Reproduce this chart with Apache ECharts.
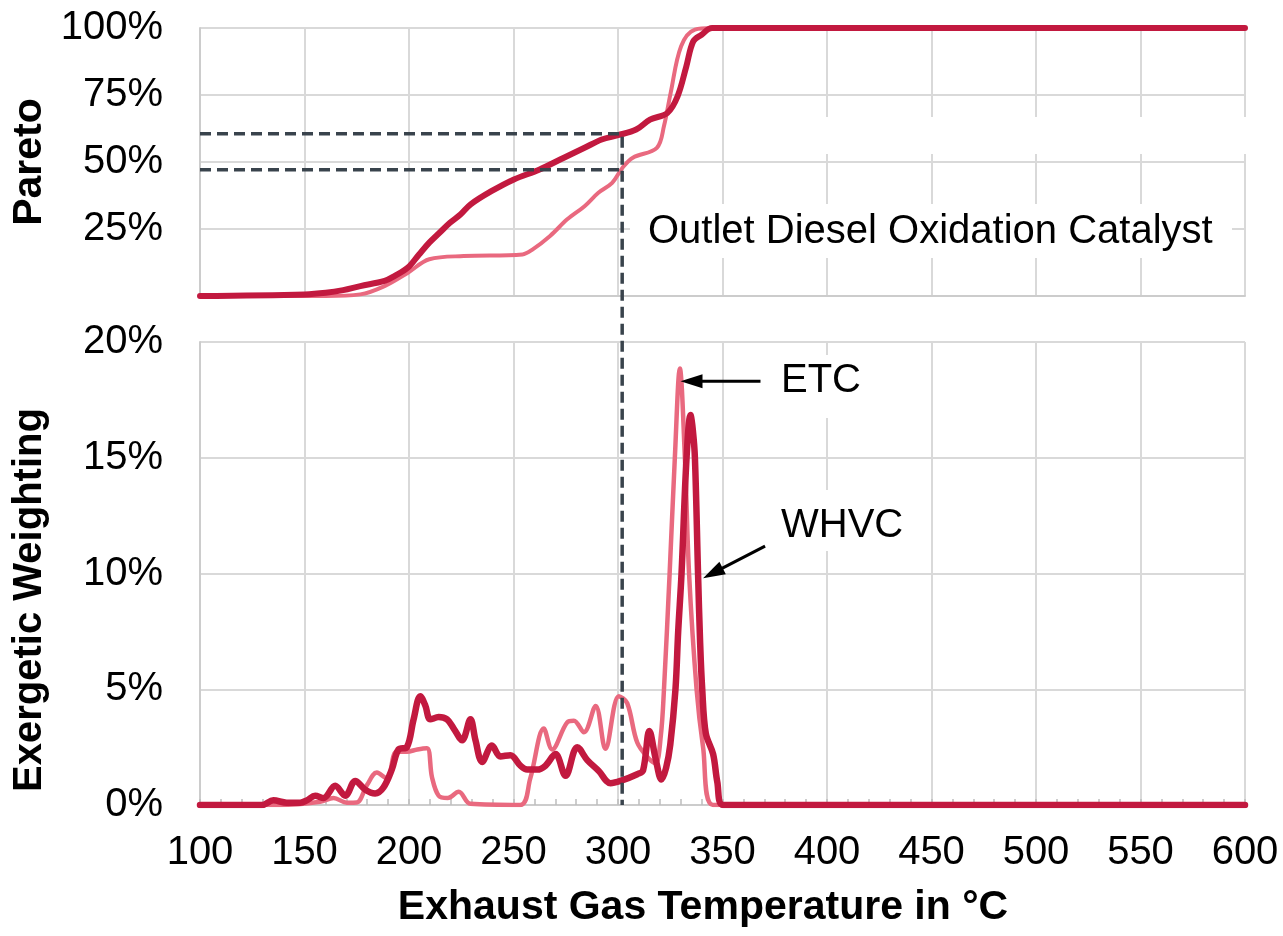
<!DOCTYPE html>
<html>
<head>
<meta charset="utf-8">
<script src="https://cdn.jsdelivr.net/npm/echarts@6/dist/echarts.min.js"></script>
<style>
  html, body { margin: 0; padding: 0; background: #ffffff; }
  #chart { width: 1283px; height: 936px; }
</style>
</head>
<body>
<div id="chart"></div>
<script>
// Temperature axis ticks (°C)
const tempTicks = [100, 150, 200, 250, 300, 350, 400, 450, 500, 550, 600];

// Cumulative share (Pareto, %) – WHVC cycle
const paretoWhvcTemp = [100, 150, 160.2, 168.5, 176.7, 188.3, 193.2, 199.5, 204.8, 209.7, 214.6, 219.6, 224.6, 229.5, 239.4, 250.2, 262.5, 274.1, 284, 292.2, 300, 308.7, 315.3, 323.6, 328.5, 332.7, 336, 340, 345, 600];
const paretoWhvc     = [0, 0.6, 1.2, 2.2, 3.7, 5.6, 7.5, 10.6, 15.5, 19.9, 23.6, 27.3, 30.4, 34.2, 39.1, 43.5, 47.2, 51.6, 55.3, 58.4, 60.0, 62.1, 65.8, 68.3, 74.5, 85.7, 95, 97.5, 100, 100];

// Cumulative share (Pareto, %) – ETC cycle
const paretoEtcTemp = [100, 160, 176.7, 188.3, 199.5, 209.7, 226.2, 254.3, 259.2, 267.5, 275.7, 284, 290.6, 297.2, 302.1, 307.1, 318.6, 322, 325.2, 330.2, 336.8, 345, 600];
const paretoEtc     = [0, 0, 0.6, 3.7, 8.7, 13.7, 14.9, 15.5, 17.4, 22.4, 28.6, 33.5, 38.5, 42.2, 47.8, 51.6, 55.3, 63.4, 75.8, 93.2, 99.4, 100, 100];

// Exergetic weighting (%) – WHVC cycle
const weightWhvcTemp = [100, 129.5, 135.1, 141.5, 147.9, 151.1, 155.1, 159.1, 164.7, 169.5, 174.3, 179.1, 183.8, 187.8, 191.8, 195, 199, 202.2, 205.4, 207.8, 210.2, 214.2, 218.2, 221.4, 225.4, 229.4, 231.8, 235, 239.7, 243.7, 248.5, 253.3, 256.5, 261.3, 265.3, 270.1, 274.9, 280.5, 285.3, 290.8, 296.4, 301.2, 309.2, 312, 315, 318, 320.8, 323, 325, 327.5, 328.8, 330.4, 332.8, 334.7, 335.8, 336.8, 338.3, 339.3, 340.3, 342, 345.5, 347.5, 350.3, 600];
const weightWhvc     = [0, 0, 0.2, 0.1, 0.1, 0.2, 0.4, 0.3, 0.83, 0.4, 1.04, 0.66, 0.5, 0.76, 1.54, 2.4, 2.5, 3.7, 4.7, 4.3, 3.7, 3.8, 3.7, 3.3, 2.8, 3.7, 2.8, 1.86, 2.57, 2.1, 2.15, 1.7, 1.53, 1.53, 1.7, 2.2, 1.26, 2.5, 1.94, 1.47, 0.94, 1.04, 1.33, 1.5, 3.2, 2.0, 1.1, 1.6, 2.6, 5, 7.5, 10, 15, 16.85, 16.2, 15, 10, 7, 5, 3.1, 2.2, 1, 0, 0];

// Exergetic weighting (%) – ETC cycle
const weightEtcTemp = [100, 138.3, 157.5, 163.9, 170.3, 175, 179.9, 184.6, 189.4, 194, 199, 204, 208.6, 211, 214.2, 218.5, 223.8, 229.4, 253.3, 258, 264.5, 268.5, 275.7, 278.9, 283.7, 289.3, 294, 300.4, 304.4, 309.2, 314.8, 318, 320.5, 322, 324.7, 327.2, 329.6, 332, 334, 337.6, 340.7, 345.5, 600];
const weightEtc     = [0, 0, 0.14, 0.3, 0.1, 0.11, 0.86, 1.4, 1.14, 2.3, 2.3, 2.4, 2.45, 1.2, 0.4, 0.3, 0.57, 0.05, 0, 1.14, 3.3, 2.4, 3.57, 3.64, 3.14, 4.28, 2.43, 4.7, 4.4, 2.7, 2.0, 1.8, 3.0, 5, 10, 15, 18.85, 15, 10, 5, 2.5, 0, 0];

const markTemp = 302;
const paretoMarks = [60.5, 47.1];

// Annotation texts
const paretoTitle = 'Pareto';
const weightTitle = 'Exergetic Weighting';
const tempTitle = 'Exhaust Gas Temperature in \u00b0C';
const positionLabel = 'Outlet Diesel Oxidation Catalyst';
const cycleNames = ['ETC', 'WHVC'];

const FONT = '"Liberation Sans", Arial, Helvetica, sans-serif';
const DARK = '#c2193f';
const LIGHT = '#e9697f';
const GRID_C = '#d9d9d9';
const DASH_C = '#39434c';

const zip = (xs, ys) => xs.map((x, i) => [x, ys[i]]);

const chart = echarts.init(document.getElementById('chart'), null, { renderer: 'canvas' });

const gridTop = { left: 200, right: 38, top: 28, height: 268 };
const gridBottom = { left: 200, right: 38, top: 342, height: 463 };

function xAxisCfg(gridIndex, withLabels) {
  return {
    type: 'value', gridIndex, min: tempTicks[0], max: tempTicks[tempTicks.length - 1], interval: 50,
    axisLine: { show: true, lineStyle: { color: '#cccccc', width: 2 } },
    axisTick: withLabels ? { show: true, inside: true, length: 6, lineStyle: { color: '#bdbdbd', width: 1.5 } } : { show: false },
    minorTick: withLabels ? { show: true, splitNumber: 5, length: 6, lineStyle: { color: '#bdbdbd', width: 1.5 } } : { show: false },
    axisLabel: withLabels ? { show: true, fontSize: 40, fontFamily: FONT, color: '#000', margin: 28 } : { show: false },
    splitLine: { show: true, lineStyle: { color: GRID_C, width: 2 } }
  };
}

function yAxisCfg(gridIndex, max, interval, hideMin) {
  return {
    type: 'value', gridIndex, min: 0, max, interval,
    axisLine: { show: true, lineStyle: { color: '#cccccc', width: 2 } },
    axisTick: { show: false },
    axisLabel: { show: true, fontSize: 40, fontFamily: FONT, color: '#000', margin: 37, showMinLabel: !hideMin, formatter: '{value}%' },
    splitLine: { show: true, lineStyle: { color: GRID_C, width: 2 } }
  };
}

function lineSeries(name, gridIndex, pts, color, width) {
  return {
    name, type: 'line', xAxisIndex: gridIndex, yAxisIndex: gridIndex,
    data: pts, showSymbol: false, symbol: 'none', smooth: 0.35,
    lineStyle: { color, width, cap: 'round', join: 'round' },
    animation: false, z: color === DARK ? 4 : 3
  };
}

chart.setOption({
  animation: false,
  backgroundColor: '#ffffff',
  textStyle: { fontFamily: FONT },
  grid: [gridTop, gridBottom],
  xAxis: [xAxisCfg(0, false), xAxisCfg(1, true)],
  yAxis: [yAxisCfg(0, 100, 25, true), yAxisCfg(1, 20, 5, false)],
  series: [
    lineSeries('ETC Pareto', 0, zip(paretoEtcTemp, paretoEtc), LIGHT, 4),
    lineSeries('WHVC Pareto', 0, zip(paretoWhvcTemp, paretoWhvc), DARK, 6),
    lineSeries('ETC', 1, zip(weightEtcTemp, weightEtc), LIGHT, 4.5),
    lineSeries('WHVC', 1, zip(weightWhvcTemp, weightWhvc), DARK, 6.5)
  ]
});

// Overlay: reference lines, arrows, titles and labels
const px = (g, pt) => chart.convertToPixel({ gridIndex: g }, pt);

function arrow(tip, dx, dy) {
  const start = [tip[0] + dx, tip[1] + dy];
  const len = Math.hypot(dx, dy);
  const ux = -dx / len, uy = -dy / len;
  const L = 22, W = 14;
  const base = [tip[0] - ux * L, tip[1] - uy * L];
  const nx = -uy, ny = ux;
  return [
    { type: 'line', z: 120, shape: { x1: start[0], y1: start[1], x2: base[0] + ux * 4, y2: base[1] + uy * 4 },
      style: { stroke: '#000', lineWidth: 3 } },
    { type: 'polygon', z: 121, shape: { points: [tip, [base[0] + nx * W / 2, base[1] + ny * W / 2], [base[0] - nx * W / 2, base[1] - ny * W / 2]] },
      style: { fill: '#000' } }
  ];
}

const pHi0 = px(0, [tempTicks[0], paretoMarks[0]]);
const pHi1 = px(0, [markTemp, paretoMarks[0]]);
const pLo0 = px(0, [tempTicks[0], paretoMarks[1]]);
const pLo1 = px(0, [markTemp, paretoMarks[1]]);
const pBase = px(1, [markTemp, 0]);

const etcTip = px(1, [329.9, 18.3]);
const whvcTip = px(1, [340.7, 9.8]);

const textStyle = (text, size, weight) => ({ text, font: `${weight} ${size}px ${FONT}`, fill: '#000' });

const elements = [
  // white boxes behind labels
  { type: 'rect', z: 100, shape: { x: 744, y: 117, width: 508, height: 37 }, style: { fill: '#ffffff' } },
  { type: 'rect', z: 100, shape: { x: 630, y: 204, width: 602, height: 54 }, style: { fill: '#ffffff' } },
  { type: 'rect', z: 100, shape: { x: 767, y: 355, width: 115, height: 63 }, style: { fill: '#ffffff' } },
  { type: 'rect', z: 100, shape: { x: 763, y: 490, width: 158, height: 61 }, style: { fill: '#ffffff' } },
  // reference lines
  { type: 'polyline', z: 110, shape: { points: [pHi0, pHi1, pBase] },
    style: { stroke: DASH_C, lineWidth: 3.5, lineDash: [11, 6], fill: null } },
  { type: 'polyline', z: 110, shape: { points: [pLo0, pLo1] },
    style: { stroke: DASH_C, lineWidth: 3.5, lineDash: [11, 6], fill: null } },
  // labels
  { type: 'text', z: 130, x: 648, y: 232, style: Object.assign(textStyle(positionLabel, 40, 'normal'), { textAlign: 'left', textVerticalAlign: 'middle' }) },
  { type: 'text', z: 130, x: 781, y: 381, style: Object.assign(textStyle(cycleNames[0], 40, 'normal'), { textAlign: 'left', textVerticalAlign: 'middle' }) },
  { type: 'text', z: 130, x: 781, y: 526, style: Object.assign(textStyle(cycleNames[1], 40, 'normal'), { textAlign: 'left', textVerticalAlign: 'middle' }) },
  // axis titles
  { type: 'text', z: 130, x: 30, y: 162, rotation: Math.PI / 2, style: Object.assign(textStyle(paretoTitle, 41, 'bold'), { textAlign: 'center', textVerticalAlign: 'middle' }) },
  { type: 'text', z: 130, x: 30, y: 600, rotation: Math.PI / 2, style: Object.assign(textStyle(weightTitle, 40, 'bold'), { textAlign: 'center', textVerticalAlign: 'middle' }) },
  { type: 'text', z: 130, x: 703, y: 908, style: Object.assign(textStyle(tempTitle, 41, 'bold'), { textAlign: 'center', textVerticalAlign: 'middle' }) }
].concat(arrow(etcTip, 80, 0), arrow(whvcTip, 62, -32));

chart.setOption({ graphic: { elements } });
</script>
</body>
</html>
